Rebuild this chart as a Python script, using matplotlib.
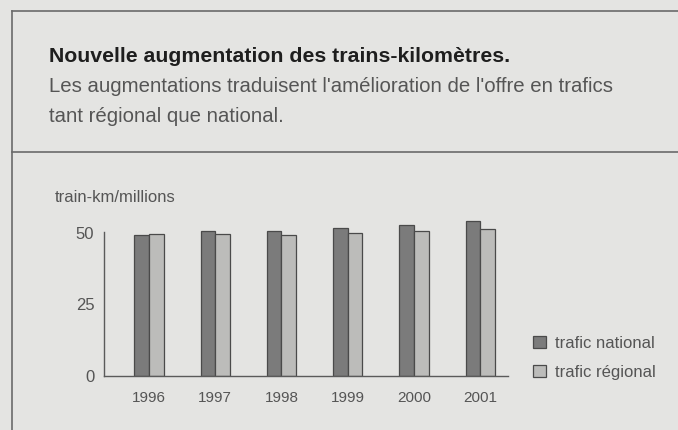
import numpy as np
import matplotlib.pyplot as plt
from matplotlib.lines import Line2D
from matplotlib.patches import Patch

# data (train-km, millions)
years = ["1996", "1997", "1998", "1999", "2000", "2001"]
national = [49.3, 50.8, 50.8, 51.7, 52.8, 54.1]
regional = [49.7, 49.7, 49.3, 50.0, 50.6, 51.3]
yticks = [0, 25, 50]

W, H = 678, 430
bg = "#e4e4e2"
dark = "#7b7b7b"
light = "#bcbcba"
edge = "#4a4a4a"
txt = "#555555"

plt.rcParams['font.family'] = ['Liberation Sans', 'DejaVu Sans']

fig = plt.figure(figsize=(W / 100, H / 100), dpi=100, facecolor=bg)

# frame lines around the panel
def fx(px):
    return px / W

def fy(py):
    return 1 - py / H

for xs, ys in [((12, W), (11, 11)), ((12, 12), (11, H)), ((12, W), (152, 152))]:
    fig.add_artist(Line2D([fx(x) for x in xs], [fy(y) for y in ys],
                          color="#6a6a6a", lw=1.2))

# header text
fig.text(fx(49), fy(57), "Nouvelle augmentation des trains-kilomètres.",
         fontsize=15.3, fontweight="bold", color="#1e1e1e", va="center")
fig.text(fx(49), fy(87), "Les augmentations traduisent l'amélioration de l'offre en trafics",
         fontsize=14.7, color=txt, va="center")
fig.text(fx(49), fy(116), "tant régional que national.",
         fontsize=14.7, color=txt, va="center")

# plot area: y axis at x=104, 0 at y=375.5, 50 at y=233
ymax = 56
scale = (375.5 - 233) / 50
ax_left, ax_right = 104, 508
ax_bot = 375.5
ax_top = ax_bot - ymax * scale
ax = fig.add_axes([fx(ax_left), fy(ax_bot), (ax_right - ax_left) / W,
                   (ax_bot - ax_top) / H])
ax.set_facecolor("none")

x = np.arange(len(years))
bw = 0.22
ax.bar(x - bw / 2, national, bw, color=dark, edgecolor=edge, linewidth=0.9)
ax.bar(x + bw / 2, regional, bw, color=light, edgecolor=edge, linewidth=0.9)

ax.set_ylim(0, ymax)
ax.set_xlim(-0.68, 5.42)
ax.set_yticks(yticks)
ax.set_yticklabels([str(v) for v in yticks])
ax.set_xticks(x)
ax.set_xticklabels(years)
ax.tick_params(length=0, colors=txt)
ax.tick_params(axis="y", pad=7, labelsize=12)
ax.tick_params(axis="x", pad=11, labelsize=11)
for s in ["top", "right"]:
    ax.spines[s].set_visible(False)
for s in ["left", "bottom"]:
    ax.spines[s].set_color("#5a5a5a")
    ax.spines[s].set_linewidth(1.0)
ax.spines["left"].set_bounds(0, 50.5)

fig.text(fx(55), fy(197), "train-km/millions", fontsize=12, color=txt, va="center")

handles = [Patch(facecolor=dark, edgecolor=edge, lw=0.9),
           Patch(facecolor=light, edgecolor=edge, lw=0.9)]
fig.legend(handles, ["trafic national", "trafic régional"],
           loc="center left", bbox_to_anchor=(fx(518), fy(358)),
           frameon=False, fontsize=12, labelcolor=txt,
           handlelength=0.8, handleheight=0.7, handletextpad=0.5,
           labelspacing=0.85)

fig.savefig("out.png", dpi=100, facecolor=bg)
